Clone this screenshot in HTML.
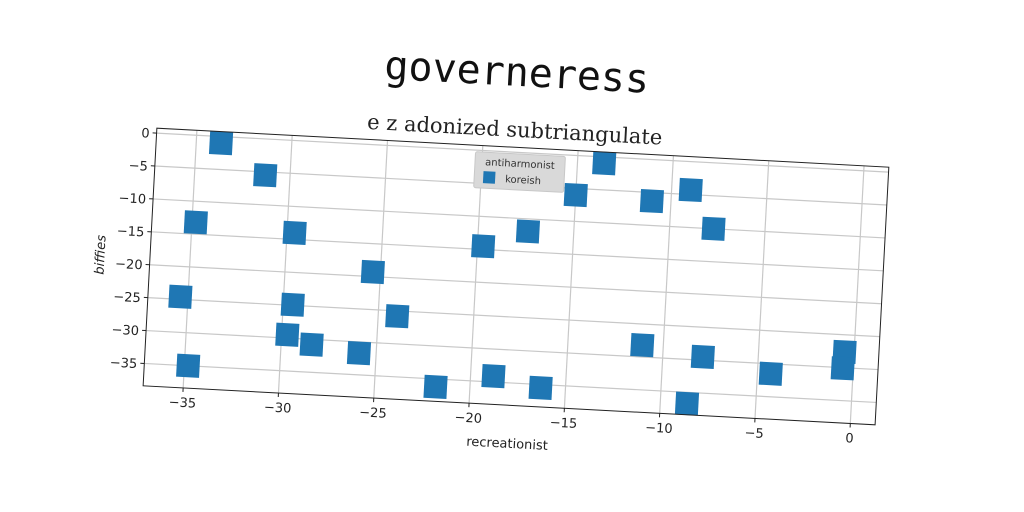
<!DOCTYPE html>
<html><head><meta charset="utf-8"><style>
html,body{margin:0;padding:0;background:#fff;}
svg{display:block;}
</style></head><body>
<svg id="chart" width="1024" height="512" viewBox="0 0 1024 512" style="font-family:'DejaVu Sans','Liberation Sans',sans-serif;">
<g id="rot" transform="rotate(3.05 516 276)">
<text x="506" y="86" style="font-family:'DejaVu Sans Mono','Liberation Mono',monospace;font-size:40px;" text-anchor="middle" fill="#111">governeress</text>
<text x="507" y="137" style="font-family:'DejaVu Serif','Liberation Serif',serif;font-size:21px;" text-anchor="middle" fill="#222">e z adonized subtriangulate</text>
<g id="grid"></g>
<g id="marks"></g>
<rect x="149.5" y="147.5" width="733" height="258" fill="none" stroke="#222" stroke-width="1"/>
<g id="ticks"></g>
<text x="516" y="448" font-size="13" text-anchor="middle" fill="#222">recreationist</text>
<text transform="translate(104 277) rotate(-90)" font-size="13" font-style="italic" text-anchor="middle" fill="#222">biffies</text>
<g>
<rect x="469" y="154" width="90" height="36" rx="2" fill="#d9d9d9" stroke="#c8c8c8"/>
<text x="514" y="167" font-size="10" text-anchor="middle" fill="#333">antiharmonist</text>
<rect x="478" y="173" width="12" height="12" fill="#1f77b4"/>
<text x="500" y="183" font-size="10" fill="#333">koreish</text>
</g>
</g>
</svg>
<script>
const xValues=[-33.7,-31.3,-34.8,-29.6,-25.4,-35.4,-29.5,-24.0,-29.7,-28.4,-25.9,-34.8,-21.8,-18.8,-16.3,-19.7,-17.4,-15.0,-13.6,-11.0,-9.0,-7.7,-11.1,-7.9,-4.3,-8.6,-0.5,-0.55];
const yValues=[-1.0,-5.5,-13.2,-14.0,-19.3,-24.6,-24.9,-25.8,-29.5,-30.8,-31.7,-35.0,-36.2,-34.1,-35.5,-14.5,-11.9,-6.0,-0.95,-6.3,-4.3,-10.0,-28.2,-29.5,-31.5,-36.7,-27.6,-30.1];
const xTicks=[-35,-30,-25,-20,-15,-10,-5,0];
const yTicks=[0,-5,-10,-15,-20,-25,-30,-35];
const xTickLabels=["\u221235","\u221230","\u221225","\u221220","\u221215","\u221210","\u22125","0"];
const yTickLabels=["0","\u22125","\u221210","\u221215","\u221220","\u221225","\u221230","\u221235"];
const L=149.5,T=147.5,W=733,H=258,xmin=-37.1,xmax=1.3,ymin=-38.4,ymax=0.75;
const sx=v=>L+(v-xmin)/(xmax-xmin)*W;
const sy=v=>T+(ymax-v)/(ymax-ymin)*H;
const NS="http://www.w3.org/2000/svg";
const grid=document.getElementById('grid'),ticks=document.getElementById('ticks'),marks=document.getElementById('marks');
function mk(tag,attrs,parent){const e=document.createElementNS(NS,tag);for(const k in attrs)e.setAttribute(k,attrs[k]);parent.appendChild(e);return e;}
xTicks.forEach((t,i)=>{
  const x=sx(t);
  const g=mk('line',{x1:x,x2:x,y1:T,y2:T+H,stroke:'#c8c8c8','stroke-width':1.2},grid);
  
  
  const tk=mk('line',{x1:x,x2:x,y1:T+H,y2:T+H+4,stroke:'#222'},ticks);
  
  
  const tl=mk('text',{x:x,y:T+H+19,'font-size':13,'text-anchor':'middle',fill:'#222'},ticks);
  tl.textContent=xTickLabels[i];
  
  
});
yTicks.forEach((t,i)=>{
  const y=sy(t);
  const g=mk('line',{x1:L,x2:L+W,y1:y,y2:y,stroke:'#c8c8c8','stroke-width':1.2},grid);
  
  
  const tk=mk('line',{x1:L-4,x2:L,y1:y,y2:y,stroke:'#222'},ticks);
  
  
  const tl=mk('text',{x:L-7,y:y+5,'font-size':13,'text-anchor':'end',fill:'#222'},ticks);
  tl.textContent=yTickLabels[i];
  
  
});
xValues.forEach((v,i)=>{
  const s=23;
  const r=mk('rect',{x:sx(v)-s/2,y:sy(yValues[i])-s/2,width:s,height:s,fill:'#1f77b4'},marks);
  
  
});
</script>
</body></html>
